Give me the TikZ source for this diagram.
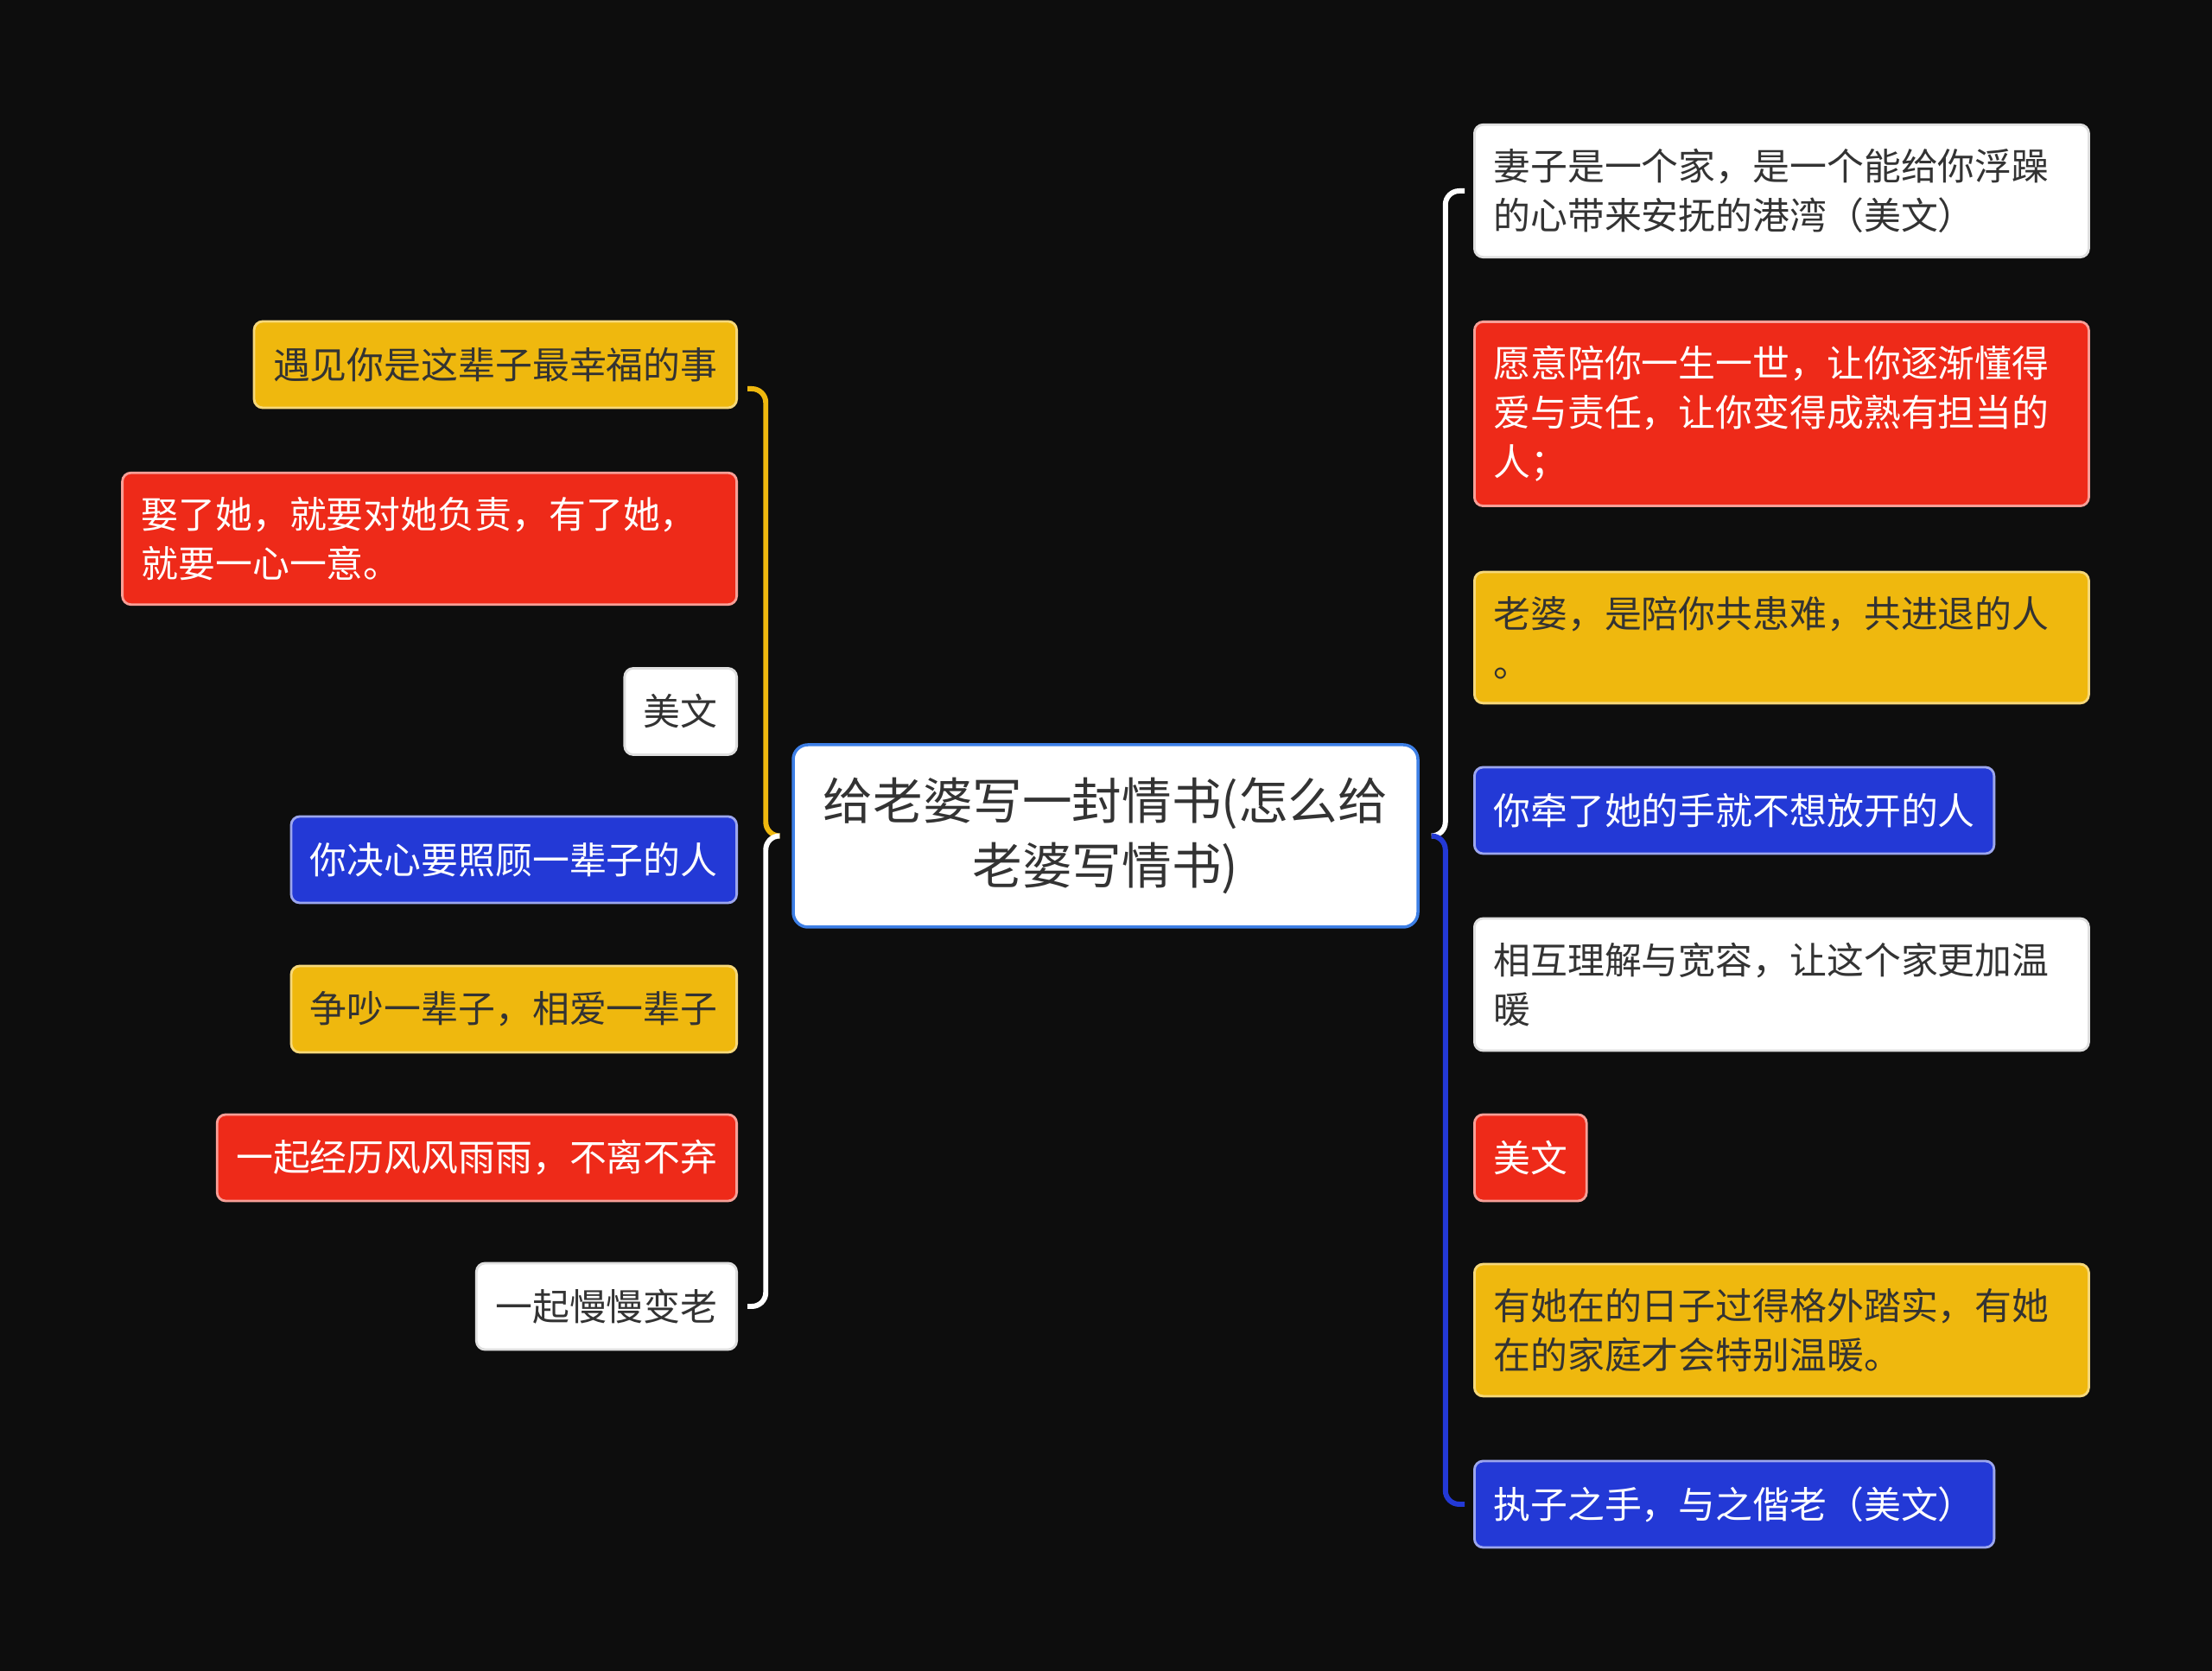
\documentclass[tikz,border=0pt]{standalone}
\usepackage{fontspec}
\setmainfont{Noto Sans CJK SC}

\definecolor{bg}{HTML}{0D0D0D}
\definecolor{myyellow}{HTML}{EFB80E}
\definecolor{myred}{HTML}{EE2A19}
\definecolor{myblue}{HTML}{2339D6}
\definecolor{rootblue}{HTML}{3D7FE6}
\definecolor{ink}{HTML}{333333}

\tikzset{
  card/.style={rounded corners=1mm, inner xsep=2.2mm, inner ysep=2.8mm, minimum height=1cm,
    font=\fontsize{12.2}{16.2}\selectfont, line width=0.8pt},
  wide/.style={text width=6.67cm, align=left},
  ylw/.style={card, fill=myyellow, draw=myyellow!55!white, text=ink},
  rd/.style={card, fill=myred, draw=myred!45!white, text=white},
  blu/.style={card, fill=myblue, draw=myblue!45!white, text=white},
  wht/.style={card, fill=white, draw=gray!25, text=ink},
  topic/.style={rounded corners=1.7mm, fill=white, draw=rootblue, line width=1pt, text=ink,
    minimum width=7.23cm, minimum height=2.11cm, align=center,
    font=\fontsize{16.4}{21.3}\selectfont},
  link/.style={line width=1.7pt, rounded corners=1.6mm},
}

\begin{document}
\begin{tikzpicture}
\fill[bg] (0,0) rectangle (25.6,19.34);
\useasboundingbox (0,0) rectangle (25.6,19.34);

\node[topic] (root) at (12.795,9.665) {给老婆写一封情书(怎么给\\老婆写情书)};

\node[ylw, anchor=east] (l1) at (8.54,15.12) {遇见你是这辈子最幸福的事};
\node[rd, wide, anchor=east] (l2) at (8.54,13.105) {娶了她，就要对她负责，有了她，\\就要一心一意。};
\node[wht, anchor=east] (l3) at (8.54,11.105) {美文};
\node[blu, anchor=east] (l4) at (8.54,9.39) {你决心要照顾一辈子的人};
\node[ylw, anchor=east] (l5) at (8.54,7.66) {争吵一辈子，相爱一辈子};
\node[rd, anchor=east] (l6) at (8.54,5.94) {一起经历风风雨雨，不离不弃};
\node[wht, anchor=east] (l7) at (8.54,4.22) {一起慢慢变老};

\node[wht, wide, anchor=west] (r1) at (17.05,17.13) {妻子是一个家，是一个能给你浮躁\\的心带来安抚的港湾（美文）};
\node[rd, wide, anchor=west] (r2) at (17.05,14.55) {愿意陪你一生一世，让你逐渐懂得\\爱与责任，让你变得成熟有担当的\\人；};
\node[ylw, wide, anchor=west] (r3) at (17.05,11.96) {老婆，是陪你共患难，共进退的人\\。};
\node[blu, anchor=west] (r4) at (17.05,9.96) {你牵了她的手就不想放开的人};
\node[wht, wide, anchor=west] (r5) at (17.05,7.945) {相互理解与宽容，让这个家更加温\\暖};
\node[rd, anchor=west] (r6) at (17.05,5.94) {美文};
\node[ylw, wide, anchor=west] (r7) at (17.05,3.945) {有她在的日子过得格外踏实，有她\\在的家庭才会特别温暖。};
\node[blu, anchor=west] (r8) at (17.05,1.93) {执子之手，与之偕老（美文）};

\draw[link, myyellow] ([xshift=-1.4mm]root.west) -- ++(-0.16,0) |- ([xshift=1.1mm,yshift=-2.8mm]l1.east);
\draw[link, white] ([xshift=-1.4mm]root.west) -- ++(-0.16,0) |- ([xshift=1.1mm]l7.east);
\draw[link, white] ([xshift=1.4mm]root.east) -- ++(0.16,0) |- ([xshift=-1mm]r1.west);
\draw[link, myblue] ([xshift=1.4mm]root.east) -- ++(0.16,0) |- ([xshift=-1mm]r8.west);
\end{tikzpicture}
\end{document}
